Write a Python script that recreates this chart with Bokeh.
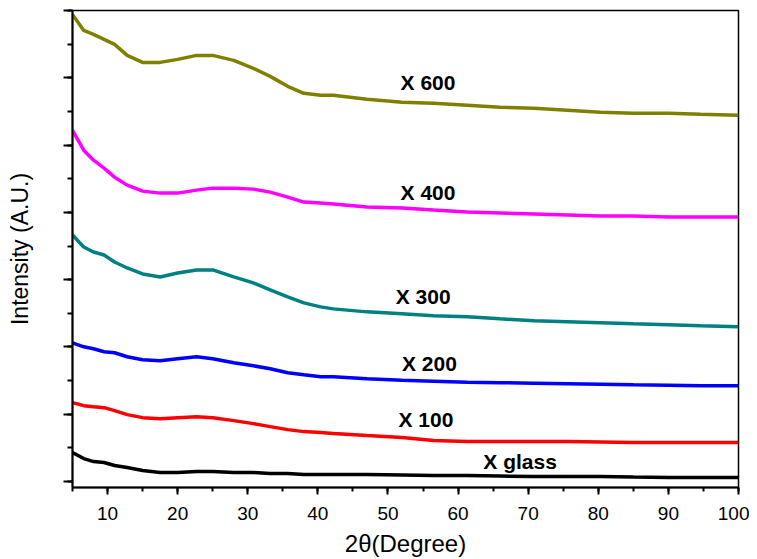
from bokeh.plotting import figure
from bokeh.models import SingleIntervalTicker, Label, Range1d, CustomJSTickFormatter
from bokeh.embed import file_html
from bokeh.resources import INLINE

# 2-theta positions (degrees)
two_theta = [5, 6.6, 8, 9.5, 11, 12.8, 15, 17.5, 20, 22.7, 25, 28, 30.8, 33.2, 35.7,
             38, 40.4, 42.2, 47, 52, 56.5, 61.3, 66, 70.8, 75.6, 80.3, 85, 90, 94.6, 100]

# intensities (arbitrary units, stacked)
x_glass = [29, 23, 20, 19, 16, 14, 11, 9, 9, 10, 10, 9, 9, 8, 8,
           7, 7, 7, 7, 6.5, 6, 6, 5.5, 5, 5, 5, 4.5, 4, 4, 4]
x_100 = [79, 76, 75, 74, 71, 67, 64, 63, 64, 65, 64, 61, 58, 55, 52,
         50, 49, 48, 46, 44, 41, 40, 40, 40, 40, 39.5, 39, 39, 39, 39]
x_200 = [139, 135, 133, 130, 129, 125, 122, 121, 123, 125, 123, 119, 116, 113, 109,
         107, 105, 105, 103, 101.5, 100.5, 99.5, 99, 98.5, 98, 97.5, 97, 96.5, 96, 96]
x_300 = [247, 235, 230, 227, 220, 214, 208, 205, 209, 212, 212, 205, 199, 192, 185,
         179, 175, 173, 170, 168, 166, 165, 163, 161, 160, 159, 158, 157, 156, 155]
x_400 = [352, 332, 322, 314, 305, 297, 291, 289, 289, 292, 294, 294, 293, 290, 285,
         280, 279, 278, 275, 274, 272, 270, 269, 268, 267, 266, 266, 265, 265, 265]
x_600 = [468, 452, 448, 443, 438, 427, 420, 420, 423, 427, 427, 422, 414, 406, 396,
         389, 387, 387, 383, 380, 379, 377, 375, 374, 372, 370, 369, 369, 368, 367]

series = [x_glass, x_100, x_200, x_300, x_400, x_600]
colors = ["#000000", "#FF0000", "#0000FF", "#008080", "#FF00FF", "#808000"]
label_texts = ["X glass", "X 100", "X 200", "X 300", "X 400", "X 600"]
label_x = [63.6, 51.5, 52.0, 51.1, 51.8, 51.8]
label_y = [20, 62, 118, 185, 290, 400]

p = figure(width=749, height=559, output_backend="svg", toolbar_location=None,
           x_range=Range1d(5, 100), y_range=Range1d(-6, 472),
           min_border_left=72, min_border_right=11, min_border_top=10, min_border_bottom=71)

for ys, c in zip(series, colors):
    p.line(two_theta, ys, line_color=c, line_width=3.5)

for t, lx, ly in zip(label_texts, label_x, label_y):
    p.add_layout(Label(x=lx, y=ly, text=t, text_font="Liberation Sans", text_font_style="bold",
                       text_font_size="21px", text_baseline="middle", text_align="left",
                       text_color="black"))

p.xgrid.grid_line_color = None
p.ygrid.grid_line_color = None
p.outline_line_color = "black"
p.outline_line_width = 1.5
p.background_fill_color = "white"
p.border_fill_color = "white"

xa = p.xaxis[0]
xa.ticker = SingleIntervalTicker(interval=10, num_minor_ticks=2)
xa.axis_label = "2θ(Degree)"
xa.axis_label_text_font = "Liberation Sans"
xa.axis_label_text_font_style = "normal"
xa.axis_label_text_font_size = "24px"
xa.axis_label_text_color = "black"
xa.axis_label_standoff = 7
xa.major_label_text_font = "Liberation Sans"
xa.major_label_text_font_size = "19px"
xa.major_label_text_color = "black"
xa.major_label_standoff = 12
xa.axis_line_width = 2
xa.axis_line_color = "black"
xa.major_tick_line_width = 2
xa.minor_tick_line_width = 2
xa.major_tick_in = 0
xa.major_tick_out = 7
xa.minor_tick_in = 0
xa.minor_tick_out = 4

ya = p.yaxis[0]
ya.ticker = SingleIntervalTicker(interval=67.4, num_minor_ticks=2)
ya.formatter = CustomJSTickFormatter(code="return '';")
ya.axis_label = "Intensity (A.U.)"
ya.axis_label_text_font = "Liberation Sans"
ya.axis_label_text_font_style = "normal"
ya.axis_label_text_font_size = "23px"
ya.axis_label_text_color = "black"
ya.axis_label_standoff = 31
ya.major_label_standoff = 0
ya.axis_line_width = 2
ya.axis_line_color = "black"
ya.major_tick_line_width = 2
ya.minor_tick_line_width = 2
ya.major_tick_in = 0
ya.major_tick_out = 9
ya.minor_tick_in = 0
ya.minor_tick_out = 5

open("out.html", "w").write(file_html(p, INLINE))
